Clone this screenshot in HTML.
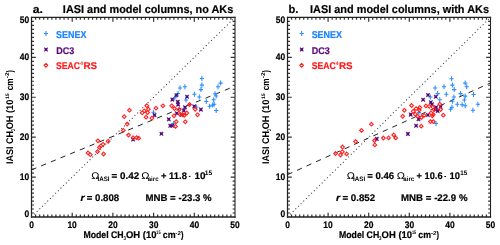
<!DOCTYPE html>
<html><head><meta charset="utf-8"><style>
html,body{margin:0;padding:0;background:#fff;width:500px;height:245px;overflow:hidden}
svg{display:block;will-change:transform}
text{font-family:"Liberation Sans",sans-serif;text-rendering:geometricPrecision}
</style></head><body>
<svg width="500" height="245" viewBox="0 0 500 245">
<path d="M35.57,217.00v-2.4 M35.57,17.40v2.4 M31.50,213.01h2.4 M235.00,213.01h-2.4 M39.64,217.00v-2.4 M39.64,17.40v2.4 M31.50,209.02h2.4 M235.00,209.02h-2.4 M43.71,217.00v-2.4 M43.71,17.40v2.4 M31.50,205.02h2.4 M235.00,205.02h-2.4 M47.78,217.00v-2.4 M47.78,17.40v2.4 M31.50,201.03h2.4 M235.00,201.03h-2.4 M51.85,217.00v-2.4 M51.85,17.40v2.4 M31.50,197.04h2.4 M235.00,197.04h-2.4 M55.92,217.00v-2.4 M55.92,17.40v2.4 M31.50,193.05h2.4 M235.00,193.05h-2.4 M59.99,217.00v-2.4 M59.99,17.40v2.4 M31.50,189.06h2.4 M235.00,189.06h-2.4 M64.06,217.00v-2.4 M64.06,17.40v2.4 M31.50,185.06h2.4 M235.00,185.06h-2.4 M68.13,217.00v-2.4 M68.13,17.40v2.4 M31.50,181.07h2.4 M235.00,181.07h-2.4 M72.20,217.00v-4.3 M72.20,17.40v4.3 M31.50,177.08h4.3 M235.00,177.08h-4.3 M76.27,217.00v-2.4 M76.27,17.40v2.4 M31.50,173.09h2.4 M235.00,173.09h-2.4 M80.34,217.00v-2.4 M80.34,17.40v2.4 M31.50,169.10h2.4 M235.00,169.10h-2.4 M84.41,217.00v-2.4 M84.41,17.40v2.4 M31.50,165.10h2.4 M235.00,165.10h-2.4 M88.48,217.00v-2.4 M88.48,17.40v2.4 M31.50,161.11h2.4 M235.00,161.11h-2.4 M92.55,217.00v-2.4 M92.55,17.40v2.4 M31.50,157.12h2.4 M235.00,157.12h-2.4 M96.62,217.00v-2.4 M96.62,17.40v2.4 M31.50,153.13h2.4 M235.00,153.13h-2.4 M100.69,217.00v-2.4 M100.69,17.40v2.4 M31.50,149.14h2.4 M235.00,149.14h-2.4 M104.76,217.00v-2.4 M104.76,17.40v2.4 M31.50,145.14h2.4 M235.00,145.14h-2.4 M108.83,217.00v-2.4 M108.83,17.40v2.4 M31.50,141.15h2.4 M235.00,141.15h-2.4 M112.90,217.00v-4.3 M112.90,17.40v4.3 M31.50,137.16h4.3 M235.00,137.16h-4.3 M116.97,217.00v-2.4 M116.97,17.40v2.4 M31.50,133.17h2.4 M235.00,133.17h-2.4 M121.04,217.00v-2.4 M121.04,17.40v2.4 M31.50,129.18h2.4 M235.00,129.18h-2.4 M125.11,217.00v-2.4 M125.11,17.40v2.4 M31.50,125.18h2.4 M235.00,125.18h-2.4 M129.18,217.00v-2.4 M129.18,17.40v2.4 M31.50,121.19h2.4 M235.00,121.19h-2.4 M133.25,217.00v-2.4 M133.25,17.40v2.4 M31.50,117.20h2.4 M235.00,117.20h-2.4 M137.32,217.00v-2.4 M137.32,17.40v2.4 M31.50,113.21h2.4 M235.00,113.21h-2.4 M141.39,217.00v-2.4 M141.39,17.40v2.4 M31.50,109.22h2.4 M235.00,109.22h-2.4 M145.46,217.00v-2.4 M145.46,17.40v2.4 M31.50,105.22h2.4 M235.00,105.22h-2.4 M149.53,217.00v-2.4 M149.53,17.40v2.4 M31.50,101.23h2.4 M235.00,101.23h-2.4 M153.60,217.00v-4.3 M153.60,17.40v4.3 M31.50,97.24h4.3 M235.00,97.24h-4.3 M157.67,217.00v-2.4 M157.67,17.40v2.4 M31.50,93.25h2.4 M235.00,93.25h-2.4 M161.74,217.00v-2.4 M161.74,17.40v2.4 M31.50,89.26h2.4 M235.00,89.26h-2.4 M165.81,217.00v-2.4 M165.81,17.40v2.4 M31.50,85.26h2.4 M235.00,85.26h-2.4 M169.88,217.00v-2.4 M169.88,17.40v2.4 M31.50,81.27h2.4 M235.00,81.27h-2.4 M173.95,217.00v-2.4 M173.95,17.40v2.4 M31.50,77.28h2.4 M235.00,77.28h-2.4 M178.02,217.00v-2.4 M178.02,17.40v2.4 M31.50,73.29h2.4 M235.00,73.29h-2.4 M182.09,217.00v-2.4 M182.09,17.40v2.4 M31.50,69.30h2.4 M235.00,69.30h-2.4 M186.16,217.00v-2.4 M186.16,17.40v2.4 M31.50,65.30h2.4 M235.00,65.30h-2.4 M190.23,217.00v-2.4 M190.23,17.40v2.4 M31.50,61.31h2.4 M235.00,61.31h-2.4 M194.30,217.00v-4.3 M194.30,17.40v4.3 M31.50,57.32h4.3 M235.00,57.32h-4.3 M198.37,217.00v-2.4 M198.37,17.40v2.4 M31.50,53.33h2.4 M235.00,53.33h-2.4 M202.44,217.00v-2.4 M202.44,17.40v2.4 M31.50,49.34h2.4 M235.00,49.34h-2.4 M206.51,217.00v-2.4 M206.51,17.40v2.4 M31.50,45.34h2.4 M235.00,45.34h-2.4 M210.58,217.00v-2.4 M210.58,17.40v2.4 M31.50,41.35h2.4 M235.00,41.35h-2.4 M214.65,217.00v-2.4 M214.65,17.40v2.4 M31.50,37.36h2.4 M235.00,37.36h-2.4 M218.72,217.00v-2.4 M218.72,17.40v2.4 M31.50,33.37h2.4 M235.00,33.37h-2.4 M222.79,217.00v-2.4 M222.79,17.40v2.4 M31.50,29.38h2.4 M235.00,29.38h-2.4 M226.86,217.00v-2.4 M226.86,17.40v2.4 M31.50,25.38h2.4 M235.00,25.38h-2.4 M230.93,217.00v-2.4 M230.93,17.40v2.4 M31.50,21.39h2.4 M235.00,21.39h-2.4" stroke="#333" stroke-width="1.2" fill="none"/>
<path d="M31.50,16.80V217.75" stroke="#222" stroke-width="1.25" fill="none"/>
<path d="M235.00,16.80V217.75" stroke="#222" stroke-width="1.1" fill="none"/>
<path d="M30.90,17.40H235.60" stroke="#222" stroke-width="1.25" fill="none"/>
<path d="M30.90,217.00H235.60" stroke="#222" stroke-width="1.5" fill="none"/>
<line x1="31.50" y1="217.00" x2="235.00" y2="17.40" stroke="#444" stroke-width="1.05" stroke-dasharray="1.1 2.6"/>
<line x1="31.50" y1="169.89" x2="235.00" y2="86.06" stroke="#222" stroke-width="1.0" stroke-dasharray="5.3 5.155"/>
<text transform="translate(29.15,227.80) scale(0.891,1)" font-size="9.5" font-weight="bold" fill="#000" stroke="#000" stroke-width="0.2">0</text>
<text transform="translate(24.54,216.80) scale(0.891,1)" font-size="9.5" font-weight="bold" fill="#000" stroke="#000" stroke-width="0.2">0</text>
<text transform="translate(67.41,227.80) scale(0.891,1)" font-size="9.5" font-weight="bold" fill="#000" stroke="#000" stroke-width="0.2">10</text>
<text transform="translate(19.84,180.18) scale(0.891,1)" font-size="9.5" font-weight="bold" fill="#000" stroke="#000" stroke-width="0.2">10</text>
<text transform="translate(108.22,227.80) scale(0.891,1)" font-size="9.5" font-weight="bold" fill="#000" stroke="#000" stroke-width="0.2">20</text>
<text transform="translate(19.84,140.26) scale(0.891,1)" font-size="9.5" font-weight="bold" fill="#000" stroke="#000" stroke-width="0.2">20</text>
<text transform="translate(148.98,227.80) scale(0.891,1)" font-size="9.5" font-weight="bold" fill="#000" stroke="#000" stroke-width="0.2">30</text>
<text transform="translate(19.84,100.34) scale(0.891,1)" font-size="9.5" font-weight="bold" fill="#000" stroke="#000" stroke-width="0.2">30</text>
<text transform="translate(189.71,227.80) scale(0.891,1)" font-size="9.5" font-weight="bold" fill="#000" stroke="#000" stroke-width="0.2">40</text>
<text transform="translate(19.84,60.42) scale(0.891,1)" font-size="9.5" font-weight="bold" fill="#000" stroke="#000" stroke-width="0.2">40</text>
<text transform="translate(230.34,227.80) scale(0.891,1)" font-size="9.5" font-weight="bold" fill="#000" stroke="#000" stroke-width="0.2">50</text>
<text transform="translate(19.84,22.60) scale(0.891,1)" font-size="9.5" font-weight="bold" fill="#000" stroke="#000" stroke-width="0.2">50</text>
<text transform="translate(32.63,12.60) scale(1.084,1)" font-size="11.3" font-weight="bold" fill="#000" stroke="#000" stroke-width="0.2">a.</text>
<text transform="translate(62.86,12.60) scale(0.965,1)" font-size="11.3" font-weight="bold" fill="#000" stroke="#000" stroke-width="0.2">IASI and model columns, no AKs</text>
<text transform="translate(56.03,37.70) scale(0.908,1)" font-size="9.9" font-weight="bold" fill="#1a82ff" stroke="#1a82ff" stroke-width="0.2">SENEX</text>
<text transform="translate(56.19,53.70) scale(0.929,1)" font-size="9.7" font-weight="bold" fill="#5c0a7c" stroke="#5c0a7c" stroke-width="0.2">DC3</text>
<text transform="translate(56.04,69.40) scale(0.882,1)" font-size="9.8" font-weight="bold" fill="#ff1a1a" stroke="#ff1a1a" stroke-width="0.2">SEAC</text>
<text transform="translate(80.13,64.70) scale(0.972,1)" font-size="5.0" font-weight="bold" fill="#ff1a1a">4</text>
<text transform="translate(83.44,69.40) scale(0.995,1)" font-size="9.8" font-weight="bold" fill="#ff1a1a" stroke="#ff1a1a" stroke-width="0.2">RS</text>
<text transform="translate(83.41,237.70) scale(0.900,1)" font-size="9.7" font-weight="bold" fill="#000" stroke="#000" stroke-width="0.2">Model CH</text>
<text transform="translate(123.40,239.80) scale(0.790,1)" font-size="5.6" font-weight="bold" fill="#000">3</text>
<text transform="translate(126.02,237.70) scale(0.974,1)" font-size="9.7" font-weight="bold" fill="#000" stroke="#000" stroke-width="0.2">OH (10</text>
<text transform="translate(156.36,233.60) scale(0.765,1)" font-size="5.0" font-weight="bold" fill="#000">15</text>
<text transform="translate(162.75,237.70) scale(0.914,1)" font-size="9.7" font-weight="bold" fill="#000" stroke="#000" stroke-width="0.2">cm</text>
<text transform="translate(175.35,234.60) scale(1.106,1)" font-size="5.6" font-weight="bold" fill="#000">-2</text>
<text transform="translate(180.88,237.70) scale(0.773,1)" font-size="9.7" font-weight="bold" fill="#000" stroke="#000" stroke-width="0.2">)</text>
<text transform="translate(13.10,164.01) rotate(-90) scale(0.928,1)" font-size="9.7" font-weight="bold" fill="#000">IASI CH</text>
<text transform="translate(15.20,130.97) rotate(-90) scale(0.574,1)" font-size="5.6" font-weight="bold" fill="#000">3</text>
<text transform="translate(13.10,129.27) rotate(-90) scale(0.948,1)" font-size="9.7" font-weight="bold" fill="#000">OH (10</text>
<text transform="translate(9.10,99.12) rotate(-90) scale(1.020,1)" font-size="5.0" font-weight="bold" fill="#000">15</text>
<text transform="translate(13.10,90.23) rotate(-90) scale(0.845,1)" font-size="9.7" font-weight="bold" fill="#000">cm</text>
<text transform="translate(9.30,78.26) rotate(-90) scale(1.150,1)" font-size="5.6" font-weight="bold" fill="#000">-2</text>
<text transform="translate(13.10,72.62) rotate(-90) scale(0.736,1)" font-size="9.7" font-weight="bold" fill="#000">)</text>
<path d="M291.56,217.00v-2.4 M291.56,17.40v2.4 M287.50,213.01h2.4 M490.50,213.01h-2.4 M295.62,217.00v-2.4 M295.62,17.40v2.4 M287.50,209.02h2.4 M490.50,209.02h-2.4 M299.68,217.00v-2.4 M299.68,17.40v2.4 M287.50,205.02h2.4 M490.50,205.02h-2.4 M303.74,217.00v-2.4 M303.74,17.40v2.4 M287.50,201.03h2.4 M490.50,201.03h-2.4 M307.80,217.00v-2.4 M307.80,17.40v2.4 M287.50,197.04h2.4 M490.50,197.04h-2.4 M311.86,217.00v-2.4 M311.86,17.40v2.4 M287.50,193.05h2.4 M490.50,193.05h-2.4 M315.92,217.00v-2.4 M315.92,17.40v2.4 M287.50,189.06h2.4 M490.50,189.06h-2.4 M319.98,217.00v-2.4 M319.98,17.40v2.4 M287.50,185.06h2.4 M490.50,185.06h-2.4 M324.04,217.00v-2.4 M324.04,17.40v2.4 M287.50,181.07h2.4 M490.50,181.07h-2.4 M328.10,217.00v-4.3 M328.10,17.40v4.3 M287.50,177.08h4.3 M490.50,177.08h-4.3 M332.16,217.00v-2.4 M332.16,17.40v2.4 M287.50,173.09h2.4 M490.50,173.09h-2.4 M336.22,217.00v-2.4 M336.22,17.40v2.4 M287.50,169.10h2.4 M490.50,169.10h-2.4 M340.28,217.00v-2.4 M340.28,17.40v2.4 M287.50,165.10h2.4 M490.50,165.10h-2.4 M344.34,217.00v-2.4 M344.34,17.40v2.4 M287.50,161.11h2.4 M490.50,161.11h-2.4 M348.40,217.00v-2.4 M348.40,17.40v2.4 M287.50,157.12h2.4 M490.50,157.12h-2.4 M352.46,217.00v-2.4 M352.46,17.40v2.4 M287.50,153.13h2.4 M490.50,153.13h-2.4 M356.52,217.00v-2.4 M356.52,17.40v2.4 M287.50,149.14h2.4 M490.50,149.14h-2.4 M360.58,217.00v-2.4 M360.58,17.40v2.4 M287.50,145.14h2.4 M490.50,145.14h-2.4 M364.64,217.00v-2.4 M364.64,17.40v2.4 M287.50,141.15h2.4 M490.50,141.15h-2.4 M368.70,217.00v-4.3 M368.70,17.40v4.3 M287.50,137.16h4.3 M490.50,137.16h-4.3 M372.76,217.00v-2.4 M372.76,17.40v2.4 M287.50,133.17h2.4 M490.50,133.17h-2.4 M376.82,217.00v-2.4 M376.82,17.40v2.4 M287.50,129.18h2.4 M490.50,129.18h-2.4 M380.88,217.00v-2.4 M380.88,17.40v2.4 M287.50,125.18h2.4 M490.50,125.18h-2.4 M384.94,217.00v-2.4 M384.94,17.40v2.4 M287.50,121.19h2.4 M490.50,121.19h-2.4 M389.00,217.00v-2.4 M389.00,17.40v2.4 M287.50,117.20h2.4 M490.50,117.20h-2.4 M393.06,217.00v-2.4 M393.06,17.40v2.4 M287.50,113.21h2.4 M490.50,113.21h-2.4 M397.12,217.00v-2.4 M397.12,17.40v2.4 M287.50,109.22h2.4 M490.50,109.22h-2.4 M401.18,217.00v-2.4 M401.18,17.40v2.4 M287.50,105.22h2.4 M490.50,105.22h-2.4 M405.24,217.00v-2.4 M405.24,17.40v2.4 M287.50,101.23h2.4 M490.50,101.23h-2.4 M409.30,217.00v-4.3 M409.30,17.40v4.3 M287.50,97.24h4.3 M490.50,97.24h-4.3 M413.36,217.00v-2.4 M413.36,17.40v2.4 M287.50,93.25h2.4 M490.50,93.25h-2.4 M417.42,217.00v-2.4 M417.42,17.40v2.4 M287.50,89.26h2.4 M490.50,89.26h-2.4 M421.48,217.00v-2.4 M421.48,17.40v2.4 M287.50,85.26h2.4 M490.50,85.26h-2.4 M425.54,217.00v-2.4 M425.54,17.40v2.4 M287.50,81.27h2.4 M490.50,81.27h-2.4 M429.60,217.00v-2.4 M429.60,17.40v2.4 M287.50,77.28h2.4 M490.50,77.28h-2.4 M433.66,217.00v-2.4 M433.66,17.40v2.4 M287.50,73.29h2.4 M490.50,73.29h-2.4 M437.72,217.00v-2.4 M437.72,17.40v2.4 M287.50,69.30h2.4 M490.50,69.30h-2.4 M441.78,217.00v-2.4 M441.78,17.40v2.4 M287.50,65.30h2.4 M490.50,65.30h-2.4 M445.84,217.00v-2.4 M445.84,17.40v2.4 M287.50,61.31h2.4 M490.50,61.31h-2.4 M449.90,217.00v-4.3 M449.90,17.40v4.3 M287.50,57.32h4.3 M490.50,57.32h-4.3 M453.96,217.00v-2.4 M453.96,17.40v2.4 M287.50,53.33h2.4 M490.50,53.33h-2.4 M458.02,217.00v-2.4 M458.02,17.40v2.4 M287.50,49.34h2.4 M490.50,49.34h-2.4 M462.08,217.00v-2.4 M462.08,17.40v2.4 M287.50,45.34h2.4 M490.50,45.34h-2.4 M466.14,217.00v-2.4 M466.14,17.40v2.4 M287.50,41.35h2.4 M490.50,41.35h-2.4 M470.20,217.00v-2.4 M470.20,17.40v2.4 M287.50,37.36h2.4 M490.50,37.36h-2.4 M474.26,217.00v-2.4 M474.26,17.40v2.4 M287.50,33.37h2.4 M490.50,33.37h-2.4 M478.32,217.00v-2.4 M478.32,17.40v2.4 M287.50,29.38h2.4 M490.50,29.38h-2.4 M482.38,217.00v-2.4 M482.38,17.40v2.4 M287.50,25.38h2.4 M490.50,25.38h-2.4 M486.44,217.00v-2.4 M486.44,17.40v2.4 M287.50,21.39h2.4 M490.50,21.39h-2.4" stroke="#333" stroke-width="1.2" fill="none"/>
<path d="M287.50,16.80V217.75" stroke="#222" stroke-width="1.25" fill="none"/>
<path d="M490.50,16.80V217.75" stroke="#222" stroke-width="1.1" fill="none"/>
<path d="M286.90,17.40H491.10" stroke="#222" stroke-width="1.25" fill="none"/>
<path d="M286.90,217.00H491.10" stroke="#222" stroke-width="1.5" fill="none"/>
<line x1="287.50" y1="217.00" x2="490.50" y2="17.40" stroke="#444" stroke-width="1.05" stroke-dasharray="1.1 2.6"/>
<line x1="287.50" y1="174.68" x2="490.50" y2="82.87" stroke="#222" stroke-width="1.0" stroke-dasharray="5.3 5.155"/>
<text transform="translate(285.15,227.80) scale(0.891,1)" font-size="9.5" font-weight="bold" fill="#000" stroke="#000" stroke-width="0.2">0</text>
<text transform="translate(280.54,216.80) scale(0.891,1)" font-size="9.5" font-weight="bold" fill="#000" stroke="#000" stroke-width="0.2">0</text>
<text transform="translate(323.31,227.80) scale(0.891,1)" font-size="9.5" font-weight="bold" fill="#000" stroke="#000" stroke-width="0.2">10</text>
<text transform="translate(275.84,180.18) scale(0.891,1)" font-size="9.5" font-weight="bold" fill="#000" stroke="#000" stroke-width="0.2">10</text>
<text transform="translate(364.02,227.80) scale(0.891,1)" font-size="9.5" font-weight="bold" fill="#000" stroke="#000" stroke-width="0.2">20</text>
<text transform="translate(275.84,140.26) scale(0.891,1)" font-size="9.5" font-weight="bold" fill="#000" stroke="#000" stroke-width="0.2">20</text>
<text transform="translate(404.68,227.80) scale(0.891,1)" font-size="9.5" font-weight="bold" fill="#000" stroke="#000" stroke-width="0.2">30</text>
<text transform="translate(275.84,100.34) scale(0.891,1)" font-size="9.5" font-weight="bold" fill="#000" stroke="#000" stroke-width="0.2">30</text>
<text transform="translate(445.31,227.80) scale(0.891,1)" font-size="9.5" font-weight="bold" fill="#000" stroke="#000" stroke-width="0.2">40</text>
<text transform="translate(275.84,60.42) scale(0.891,1)" font-size="9.5" font-weight="bold" fill="#000" stroke="#000" stroke-width="0.2">40</text>
<text transform="translate(485.84,227.80) scale(0.891,1)" font-size="9.5" font-weight="bold" fill="#000" stroke="#000" stroke-width="0.2">50</text>
<text transform="translate(275.84,22.60) scale(0.891,1)" font-size="9.5" font-weight="bold" fill="#000" stroke="#000" stroke-width="0.2">50</text>
<text transform="translate(288.48,12.60) scale(0.985,1)" font-size="11.3" font-weight="bold" fill="#000" stroke="#000" stroke-width="0.2">b.</text>
<text transform="translate(310.06,12.60) scale(0.965,1)" font-size="11.3" font-weight="bold" fill="#000" stroke="#000" stroke-width="0.2">IASI and model columns, with AKs</text>
<text transform="translate(311.63,37.70) scale(0.908,1)" font-size="9.9" font-weight="bold" fill="#1a82ff" stroke="#1a82ff" stroke-width="0.2">SENEX</text>
<text transform="translate(311.79,53.70) scale(0.929,1)" font-size="9.7" font-weight="bold" fill="#5c0a7c" stroke="#5c0a7c" stroke-width="0.2">DC3</text>
<text transform="translate(311.64,69.40) scale(0.882,1)" font-size="9.8" font-weight="bold" fill="#ff1a1a" stroke="#ff1a1a" stroke-width="0.2">SEAC</text>
<text transform="translate(335.73,64.70) scale(0.972,1)" font-size="5.0" font-weight="bold" fill="#ff1a1a">4</text>
<text transform="translate(339.04,69.40) scale(0.995,1)" font-size="9.8" font-weight="bold" fill="#ff1a1a" stroke="#ff1a1a" stroke-width="0.2">RS</text>
<text transform="translate(339.01,237.70) scale(0.900,1)" font-size="9.7" font-weight="bold" fill="#000" stroke="#000" stroke-width="0.2">Model CH</text>
<text transform="translate(379.00,239.80) scale(0.790,1)" font-size="5.6" font-weight="bold" fill="#000">3</text>
<text transform="translate(381.62,237.70) scale(0.974,1)" font-size="9.7" font-weight="bold" fill="#000" stroke="#000" stroke-width="0.2">OH (10</text>
<text transform="translate(411.96,233.60) scale(0.765,1)" font-size="5.0" font-weight="bold" fill="#000">15</text>
<text transform="translate(418.35,237.70) scale(0.914,1)" font-size="9.7" font-weight="bold" fill="#000" stroke="#000" stroke-width="0.2">cm</text>
<text transform="translate(430.95,234.60) scale(1.106,1)" font-size="5.6" font-weight="bold" fill="#000">-2</text>
<text transform="translate(436.48,237.70) scale(0.773,1)" font-size="9.7" font-weight="bold" fill="#000" stroke="#000" stroke-width="0.2">)</text>
<text transform="translate(268.70,164.01) rotate(-90) scale(0.928,1)" font-size="9.7" font-weight="bold" fill="#000">IASI CH</text>
<text transform="translate(270.80,130.97) rotate(-90) scale(0.574,1)" font-size="5.6" font-weight="bold" fill="#000">3</text>
<text transform="translate(268.70,129.27) rotate(-90) scale(0.948,1)" font-size="9.7" font-weight="bold" fill="#000">OH (10</text>
<text transform="translate(264.70,99.12) rotate(-90) scale(1.020,1)" font-size="5.0" font-weight="bold" fill="#000">15</text>
<text transform="translate(268.70,90.23) rotate(-90) scale(0.845,1)" font-size="9.7" font-weight="bold" fill="#000">cm</text>
<text transform="translate(264.90,78.26) rotate(-90) scale(1.150,1)" font-size="5.6" font-weight="bold" fill="#000">-2</text>
<text transform="translate(268.70,72.62) rotate(-90) scale(0.736,1)" font-size="9.7" font-weight="bold" fill="#000">)</text>
<text transform="translate(91.14,178.50) scale(1.120,1)" font-size="9.7" font-weight="normal" fill="#000">Ω</text>
<text transform="translate(97.48,180.80) scale(0.975,1)" font-size="6.4" font-weight="bold" fill="#000">IASI</text>
<text transform="translate(111.58,178.70) scale(1.024,1)" font-size="9.6" font-weight="bold" fill="#000" stroke="#000" stroke-width="0.2">= 0.42</text>
<text transform="translate(141.13,178.50) scale(1.136,1)" font-size="9.7" font-weight="normal" fill="#000">Ω</text>
<text transform="translate(147.72,180.80) scale(0.954,1)" font-size="6.4" font-weight="bold" fill="#000">airc</text>
<text transform="translate(161.00,178.80) scale(0.979,1)" font-size="9.6" font-weight="bold" fill="#000" stroke="#000" stroke-width="0.2">+ 11.8</text>
<text transform="translate(186.75,178.80) scale(1.816,1)" font-size="9.6" font-weight="normal" fill="#000">·</text>
<text transform="translate(194.38,178.80) scale(1.034,1)" font-size="9.6" font-weight="bold" fill="#000" stroke="#000" stroke-width="0.2">10</text>
<text transform="translate(204.78,174.90) scale(1.010,1)" font-size="6.6" font-weight="bold" fill="#000">15</text>
<text transform="translate(80.42,200.60) scale(1.098,1)" font-size="9.6" font-weight="bold" font-style="italic" fill="#000" stroke="#000" stroke-width="0.2">r</text>
<text transform="translate(86.79,200.60) scale(1.004,1)" font-size="9.6" font-weight="bold" fill="#000" stroke="#000" stroke-width="0.2">= 0.808</text>
<text transform="translate(145.45,200.60) scale(1.006,1)" font-size="9.6" font-weight="bold" fill="#000" stroke="#000" stroke-width="0.2">MNB = -23.3 %</text>
<text transform="translate(346.74,178.50) scale(1.120,1)" font-size="9.7" font-weight="normal" fill="#000">Ω</text>
<text transform="translate(353.08,180.80) scale(0.975,1)" font-size="6.4" font-weight="bold" fill="#000">IASI</text>
<text transform="translate(367.19,178.70) scale(1.000,1)" font-size="9.6" font-weight="bold" fill="#000" stroke="#000" stroke-width="0.2">= 0.46</text>
<text transform="translate(396.73,178.50) scale(1.136,1)" font-size="9.7" font-weight="normal" fill="#000">Ω</text>
<text transform="translate(403.32,180.80) scale(0.954,1)" font-size="6.4" font-weight="bold" fill="#000">airc</text>
<text transform="translate(416.61,178.80) scale(0.962,1)" font-size="9.6" font-weight="bold" fill="#000" stroke="#000" stroke-width="0.2">+ 10.6</text>
<text transform="translate(442.35,178.80) scale(1.816,1)" font-size="9.6" font-weight="normal" fill="#000">·</text>
<text transform="translate(449.61,178.60) scale(0.982,1)" font-size="9.6" font-weight="bold" fill="#000" stroke="#000" stroke-width="0.2">10</text>
<text transform="translate(460.31,174.70) scale(0.951,1)" font-size="6.6" font-weight="bold" fill="#000">15</text>
<text transform="translate(336.02,200.60) scale(1.098,1)" font-size="9.6" font-weight="bold" font-style="italic" fill="#000" stroke="#000" stroke-width="0.2">r</text>
<text transform="translate(342.39,200.60) scale(1.016,1)" font-size="9.6" font-weight="bold" fill="#000" stroke="#000" stroke-width="0.2">= 0.852</text>
<text transform="translate(401.05,200.60) scale(1.009,1)" font-size="9.6" font-weight="bold" fill="#000" stroke="#000" stroke-width="0.2">MNB = -22.9 %</text>
<path d="M199.80,78.40h4.2M201.90,75.90v5M199.80,85.10h4.2M201.90,82.60v5M198.80,89.60h4.2M200.90,87.10v5M182.80,86.80h4.2M184.90,84.30v5M177.90,87.90h4.2M180.00,85.40v5M218.50,83.10h4.2M220.60,80.60v5M215.90,86.80h4.2M218.00,84.30v5M192.30,94.30h4.2M194.40,91.80v5M212.90,93.70h4.2M215.00,91.20v5M197.20,96.90h4.2M199.30,94.40v5M183.90,100.00h4.2M186.00,97.50v5M204.20,101.40h4.2M206.30,98.90v5M214.10,95.90h4.2M216.20,93.40v5M211.60,99.70h4.2M213.70,97.20v5M207.50,106.30h4.2M209.60,103.80v5M210.60,105.10h4.2M212.70,102.60v5M212.10,104.30h4.2M214.20,101.80v5M214.10,110.40h4.2M216.20,107.90v5M194.30,107.00h4.2M196.40,104.50v5M175.90,93.40h4.2M178.00,90.90v5M172.70,97.70h4.2M174.80,95.20v5M151.30,112.30h4.2M153.40,109.80v5M171.30,123.60h4.2M173.40,121.10v5M449.50,78.70h4.2M451.60,76.20v5M450.30,85.10h4.2M452.40,82.60v5M452.10,89.60h4.2M454.20,87.10v5M441.90,86.80h4.2M444.00,84.30v5M433.00,88.00h4.2M435.10,85.50v5M463.10,83.10h4.2M465.20,80.60v5M464.60,86.80h4.2M466.70,84.30v5M435.60,93.60h4.2M437.70,91.10v5M444.20,94.20h4.2M446.30,91.70v5M458.50,93.60h4.2M460.60,91.10v5M471.40,94.40h4.2M473.50,91.90v5M463.10,96.10h4.2M465.20,93.60v5M451.80,96.90h4.2M453.90,94.40v5M437.70,99.80h4.2M439.80,97.30v5M450.30,101.20h4.2M452.40,98.70v5M462.30,100.00h4.2M464.40,97.50v5M455.20,104.30h4.2M457.30,101.80v5M460.00,104.80h4.2M462.10,102.30v5M463.10,105.80h4.2M465.20,103.30v5M475.80,104.30h4.2M477.90,101.80v5M449.80,107.30h4.2M451.90,104.80v5M448.50,109.30h4.2M450.60,106.80v5M470.80,110.30h4.2M472.90,107.80v5M428.30,96.90h4.2M430.40,94.40v5M416.80,112.60h4.2M418.90,110.10v5M433.90,123.50h4.2M436.00,121.00v5M43.90,33.40h4.2M46.00,30.90v5M299.60,33.40h4.2M301.70,30.90v5" stroke="#2a8cff" stroke-width="1.05" fill="none"/>
<path d="M174.65,93.30L178.15,97.10M178.15,93.30L174.65,97.10M170.55,97.70L174.05,101.50M174.05,97.70L170.55,101.50M176.05,100.00L179.55,103.80M179.55,100.00L176.05,103.80M176.35,102.70L179.85,106.50M179.85,102.70L176.35,106.50M185.25,94.90L188.75,98.70M188.75,94.90L185.25,98.70M183.25,105.30L186.75,109.10M186.75,105.30L183.25,109.10M182.05,108.60L185.55,112.40M185.55,108.60L182.05,112.40M192.45,104.50L195.95,108.30M195.95,104.50L192.45,108.30M199.15,107.70L202.65,111.50M202.65,107.70L199.15,111.50M175.05,111.40L178.55,115.20M178.55,111.40L175.05,115.20M179.75,113.10L183.25,116.90M183.25,113.10L179.75,116.90M167.05,117.30L170.55,121.10M170.55,117.30L167.05,121.10M168.45,123.90L171.95,127.70M171.95,123.90L168.45,127.70M170.45,123.90L173.95,127.70M173.95,123.90L170.45,127.70M159.65,131.90L163.15,135.70M163.15,131.90L159.65,135.70M152.75,113.20L156.25,117.00M156.25,113.20L152.75,117.00M131.35,137.50L134.85,141.30M134.85,137.50L131.35,141.30M426.25,93.10L429.75,96.90M429.75,93.10L426.25,96.90M421.35,97.90L424.85,101.70M424.85,97.90L421.35,101.70M434.05,94.80L437.55,98.60M437.55,94.80L434.05,98.60M429.05,100.30L432.55,104.10M432.55,100.30L429.05,104.10M430.25,102.30L433.75,106.10M433.75,102.30L430.25,106.10M434.35,105.40L437.85,109.20M437.85,105.40L434.35,109.20M433.55,107.80L437.05,111.60M437.05,107.80L433.55,111.60M438.85,104.80L442.35,108.60M442.35,104.80L438.85,108.60M408.95,112.70L412.45,116.50M412.45,112.70L408.95,116.50M416.75,117.20L420.25,121.00M420.25,117.20L416.75,121.00M426.15,113.10L429.65,116.90M429.65,113.10L426.15,116.90M414.35,123.80L417.85,127.60M417.85,123.80L414.35,127.60M406.15,132.00L409.65,135.80M409.65,132.00L406.15,135.80M375.05,137.00L378.55,140.80M378.55,137.00L375.05,140.80M435.95,109.00L439.45,112.80M439.45,109.00L435.95,112.80M44.25,47.60L47.75,51.40M47.75,47.60L44.25,51.40M299.95,47.60L303.45,51.40M303.45,47.60L299.95,51.40" stroke="#540a7a" stroke-width="1.25" stroke-opacity="0.85" fill="none"/>
<path d="M175.10,93.90h2.6v2.6h-2.6ZM171.00,98.30h2.6v2.6h-2.6ZM176.50,100.60h2.6v2.6h-2.6ZM176.80,103.30h2.6v2.6h-2.6ZM185.70,95.50h2.6v2.6h-2.6ZM183.70,105.90h2.6v2.6h-2.6ZM182.50,109.20h2.6v2.6h-2.6ZM192.90,105.10h2.6v2.6h-2.6ZM199.60,108.30h2.6v2.6h-2.6ZM175.50,112.00h2.6v2.6h-2.6ZM180.20,113.70h2.6v2.6h-2.6ZM167.50,117.90h2.6v2.6h-2.6ZM168.90,124.50h2.6v2.6h-2.6ZM170.90,124.50h2.6v2.6h-2.6ZM160.10,132.50h2.6v2.6h-2.6ZM153.20,113.80h2.6v2.6h-2.6ZM131.80,138.10h2.6v2.6h-2.6ZM426.70,93.70h2.6v2.6h-2.6ZM421.80,98.50h2.6v2.6h-2.6ZM434.50,95.40h2.6v2.6h-2.6ZM429.50,100.90h2.6v2.6h-2.6ZM430.70,102.90h2.6v2.6h-2.6ZM434.80,106.00h2.6v2.6h-2.6ZM434.00,108.40h2.6v2.6h-2.6ZM439.30,105.40h2.6v2.6h-2.6ZM409.40,113.30h2.6v2.6h-2.6ZM417.20,117.80h2.6v2.6h-2.6ZM426.60,113.70h2.6v2.6h-2.6ZM414.80,124.40h2.6v2.6h-2.6ZM406.60,132.60h2.6v2.6h-2.6ZM375.50,137.60h2.6v2.6h-2.6ZM436.40,109.60h2.6v2.6h-2.6ZM44.70,48.20h2.6v2.6h-2.6ZM300.40,48.20h2.6v2.6h-2.6Z" fill="#540a7a"/>
<path d="M189.50,102.75L191.35,104.60L189.50,106.45L187.65,104.60ZM195.20,107.45L197.05,109.30L195.20,111.15L193.35,109.30ZM171.70,103.95L173.55,105.80L171.70,107.65L169.85,105.80ZM174.50,106.75L176.35,108.60L174.50,110.45L172.65,108.60ZM179.10,107.65L180.95,109.50L179.10,111.35L177.25,109.50ZM186.80,111.15L188.65,113.00L186.80,114.85L184.95,113.00ZM197.50,112.95L199.35,114.80L197.50,116.65L195.65,114.80ZM174.00,113.95L175.85,115.80L174.00,117.65L172.15,115.80ZM180.10,112.35L181.95,114.20L180.10,116.05L178.25,114.20ZM182.60,112.75L184.45,114.60L182.60,116.45L180.75,114.60ZM184.20,113.55L186.05,115.40L184.20,117.25L182.35,115.40ZM176.20,119.85L178.05,121.70L176.20,123.55L174.35,121.70ZM185.30,119.95L187.15,121.80L185.30,123.65L183.45,121.80ZM175.50,124.55L177.35,126.40L175.50,128.25L173.65,126.40ZM146.80,103.85L148.65,105.70L146.80,107.55L144.95,105.70ZM148.40,107.35L150.25,109.20L148.40,111.05L146.55,109.20ZM144.30,109.05L146.15,110.90L144.30,112.75L142.45,110.90ZM142.20,110.95L144.05,112.80L142.20,114.65L140.35,112.80ZM147.60,110.65L149.45,112.50L147.60,114.35L145.75,112.50ZM146.10,115.35L147.95,117.20L146.10,119.05L144.25,117.20ZM151.90,116.35L153.75,118.20L151.90,120.05L150.05,118.20ZM156.00,106.35L157.85,108.20L156.00,110.05L154.15,108.20ZM162.90,103.95L164.75,105.80L162.90,107.65L161.05,105.80ZM129.50,108.35L131.35,110.20L129.50,112.05L127.65,110.20ZM124.20,114.85L126.05,116.70L124.20,118.55L122.35,116.70ZM127.20,122.25L129.05,124.10L127.20,125.95L125.35,124.10ZM123.30,128.55L125.15,130.40L123.30,132.25L121.45,130.40ZM128.50,133.25L130.35,135.10L128.50,136.95L126.65,135.10ZM133.10,135.85L134.95,137.70L133.10,139.55L131.25,137.70ZM136.60,135.85L138.45,137.70L136.60,139.55L134.75,137.70ZM138.70,136.35L140.55,138.20L138.70,140.05L136.85,138.20ZM97.90,138.95L99.75,140.80L97.90,142.65L96.05,140.80ZM108.10,139.45L109.95,141.30L108.10,143.15L106.25,141.30ZM103.00,142.45L104.85,144.30L103.00,146.15L101.15,144.30ZM100.90,144.05L102.75,145.90L100.90,147.75L99.05,145.90ZM99.40,145.55L101.25,147.40L99.40,149.25L97.55,147.40ZM97.50,149.85L99.35,151.70L97.50,153.55L95.65,151.70ZM88.00,151.05L89.85,152.90L88.00,154.75L86.15,152.90ZM90.30,152.85L92.15,154.70L90.30,156.55L88.45,154.70ZM103.60,152.15L105.45,154.00L103.60,155.85L101.75,154.00ZM411.60,103.65L413.45,105.50L411.60,107.35L409.75,105.50ZM416.10,106.85L417.95,108.70L416.10,110.55L414.25,108.70ZM419.80,105.65L421.65,107.50L419.80,109.35L417.95,107.50ZM425.90,104.05L427.75,105.90L425.90,107.75L424.05,105.90ZM429.20,104.45L431.05,106.30L429.20,108.15L427.35,106.30ZM432.90,105.25L434.75,107.10L432.90,108.95L431.05,107.10ZM439.80,102.35L441.65,104.20L439.80,106.05L437.95,104.20ZM440.60,107.65L442.45,109.50L440.60,111.35L438.75,109.50ZM434.10,107.75L435.95,109.60L434.10,111.45L432.25,109.60ZM415.20,112.35L417.05,114.20L415.20,116.05L413.35,114.20ZM417.70,114.35L419.55,116.20L417.70,118.05L415.85,116.20ZM421.30,115.65L423.15,117.50L421.30,119.35L419.45,117.50ZM424.20,113.55L426.05,115.40L424.20,117.25L422.35,115.40ZM431.10,111.15L432.95,113.00L431.10,114.85L429.25,113.00ZM433.20,112.75L435.05,114.60L433.20,116.45L431.35,114.60ZM432.30,113.95L434.15,115.80L432.30,117.65L430.45,115.80ZM443.30,113.35L445.15,115.20L443.30,117.05L441.45,115.20ZM430.40,119.75L432.25,121.60L430.40,123.45L428.55,121.60ZM433.30,119.75L435.15,121.60L433.30,123.45L431.45,121.60ZM413.20,109.45L415.05,111.30L413.20,113.15L411.35,111.30ZM419.30,108.25L421.15,110.10L419.30,111.95L417.45,110.10ZM404.30,108.45L406.15,110.30L404.30,112.15L402.45,110.30ZM402.70,114.45L404.55,116.30L402.70,118.15L400.85,116.30ZM371.40,122.35L373.25,124.20L371.40,126.05L369.55,124.20ZM361.50,128.55L363.35,130.40L361.50,132.25L359.65,130.40ZM355.60,139.75L357.45,141.60L355.60,143.45L353.75,141.60ZM374.50,138.75L376.35,140.60L374.50,142.45L372.65,140.60ZM383.40,136.15L385.25,138.00L383.40,139.85L381.55,138.00ZM374.80,143.05L376.65,144.90L374.80,146.75L372.95,144.90ZM342.50,145.15L344.35,147.00L342.50,148.85L340.65,147.00ZM342.30,149.95L344.15,151.80L342.30,153.65L340.45,151.80ZM340.50,153.15L342.35,155.00L340.50,156.85L338.65,155.00ZM346.60,152.05L348.45,153.90L346.60,155.75L344.75,153.90ZM335.60,151.65L337.45,153.50L335.60,155.35L333.75,153.50ZM421.20,124.35L423.05,126.20L421.20,128.05L419.35,126.20ZM393.70,133.05L395.55,134.90L393.70,136.75L391.85,134.90ZM395.70,136.05L397.55,137.90L395.70,139.75L393.85,137.90ZM388.60,136.05L390.45,137.90L388.60,139.75L386.75,137.90ZM45.90,63.45L47.75,65.30L45.90,67.15L44.05,65.30ZM301.60,63.45L303.45,65.30L301.60,67.15L299.75,65.30Z" stroke="#ff2020" stroke-width="1.1" fill="none"/>
</svg>
</body></html>
